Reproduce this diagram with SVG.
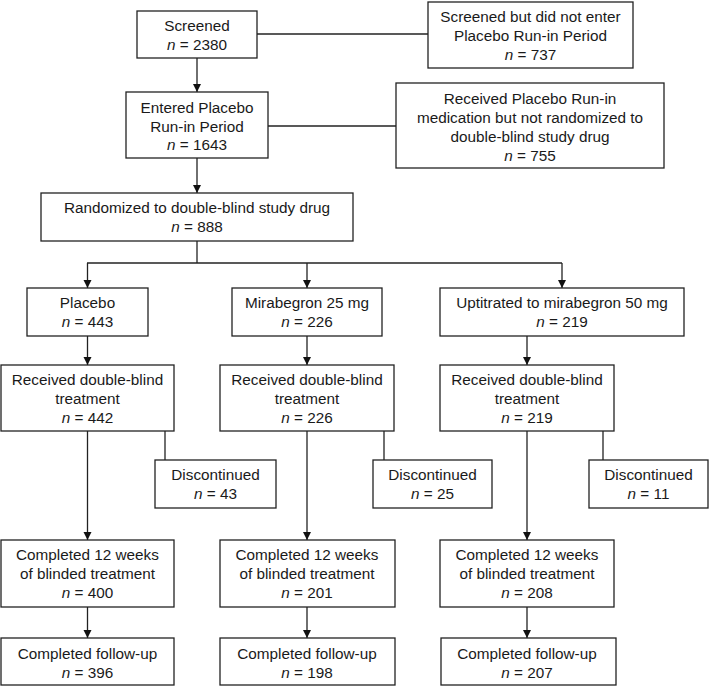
<svg xmlns="http://www.w3.org/2000/svg" width="709" height="686" viewBox="0 0 709 686">
<defs>
<style>
.box{fill:#fff;stroke:#222;stroke-width:1.3}
.t{font-family:"Liberation Sans",Arial,sans-serif;font-size:15.3px;fill:#1a1a1a;text-anchor:middle}
.i{font-style:italic}
.c{fill:none;stroke:#222;stroke-width:1.3}
</style>
<marker id="ah" viewBox="0 0 10 10" refX="10" refY="5" markerWidth="8" markerHeight="9" markerUnits="userSpaceOnUse" orient="auto">
<path d="M0,0 L10,5 L0,10 z" fill="#111"/>
</marker>
</defs>
<rect width="709" height="686" fill="#fff"/>
<g id="connectors">
<line class="c" x1="257" y1="34" x2="428" y2="34"/>
<line class="c" x1="197" y1="58" x2="197" y2="92" marker-end="url(#ah)"/>
<line class="c" x1="268" y1="126" x2="396" y2="126"/>
<line class="c" x1="197" y1="158" x2="197" y2="193" marker-end="url(#ah)"/>
<polyline class="c" points="197,241 197,263"/>
<line class="c" x1="87" y1="263" x2="562" y2="263"/>
<line class="c" x1="87.5" y1="263" x2="87.5" y2="288" marker-end="url(#ah)"/>
<line class="c" x1="307" y1="263" x2="307" y2="288" marker-end="url(#ah)"/>
<line class="c" x1="562" y1="263" x2="562" y2="288" marker-end="url(#ah)"/>
<line class="c" x1="87.5" y1="336" x2="87.5" y2="365" marker-end="url(#ah)"/>
<line class="c" x1="307" y1="336" x2="307" y2="365" marker-end="url(#ah)"/>
<line class="c" x1="527" y1="336" x2="527" y2="365" marker-end="url(#ah)"/>
<line class="c" x1="87.5" y1="431" x2="87.5" y2="540" marker-end="url(#ah)"/>
<line class="c" x1="307" y1="431" x2="307" y2="540" marker-end="url(#ah)"/>
<line class="c" x1="527" y1="431" x2="527" y2="540" marker-end="url(#ah)"/>
<line class="c" x1="165" y1="431" x2="165" y2="460"/>
<line class="c" x1="384" y1="431" x2="384" y2="460"/>
<line class="c" x1="603" y1="431" x2="603" y2="460"/>
<line class="c" x1="87.5" y1="607" x2="87.5" y2="638" marker-end="url(#ah)"/>
<line class="c" x1="307" y1="607" x2="307" y2="638" marker-end="url(#ah)"/>
<line class="c" x1="527" y1="607" x2="527" y2="638" marker-end="url(#ah)"/>
</g>
<g id="screened">
<rect class="box" x="137" y="11" width="120" height="47"/>
<text class="t" x="197" y="31">Screened</text>
<text class="t" x="197" y="50"><tspan class="i">n</tspan> = 2380</text>
</g>
<g id="not-entered">
<rect class="box" x="428" y="2" width="205" height="66"/>
<text class="t" x="530.5" y="21.5">Screened but did not enter</text>
<text class="t" x="530.5" y="40.5">Placebo Run-in Period</text>
<text class="t" x="530.5" y="59.5"><tspan class="i">n</tspan> = 737</text>
</g>
<g id="entered">
<rect class="box" x="126" y="92" width="142" height="66"/>
<text class="t" x="197" y="113">Entered Placebo</text>
<text class="t" x="197" y="131.5">Run-in Period</text>
<text class="t" x="197" y="150"><tspan class="i">n</tspan> = 1643</text>
</g>
<g id="not-randomized">
<rect class="box" x="396" y="83" width="268" height="85"/>
<text class="t" x="530" y="103.5">Received Placebo Run-in</text>
<text class="t" x="530" y="122.5">medication but not randomized to</text>
<text class="t" x="530" y="141.5">double-blind study drug</text>
<text class="t" x="530" y="160.5"><tspan class="i">n</tspan> = 755</text>
</g>
<g id="randomized">
<rect class="box" x="41" y="193" width="312" height="48"/>
<text class="t" x="197" y="213">Randomized to double-blind study drug</text>
<text class="t" x="197" y="232"><tspan class="i">n</tspan> = 888</text>
</g>
<g id="placebo">
<rect class="box" x="27" y="288" width="121" height="48"/>
<text class="t" x="87.5" y="308">Placebo</text>
<text class="t" x="87.5" y="326.5"><tspan class="i">n</tspan> = 443</text>
</g>
<g id="mira25">
<rect class="box" x="232" y="288" width="150" height="48"/>
<text class="t" x="307" y="308">Mirabegron 25 mg</text>
<text class="t" x="307" y="326.5"><tspan class="i">n</tspan> = 226</text>
</g>
<g id="mira50">
<rect class="box" x="440" y="288" width="244" height="48"/>
<text class="t" x="562" y="308">Uptitrated to mirabegron 50 mg</text>
<text class="t" x="562" y="326.5"><tspan class="i">n</tspan> = 219</text>
</g>
<g id="received1">
<rect class="box" x="1" y="365" width="173" height="66"/>
<text class="t" x="87.5" y="385">Received double-blind</text>
<text class="t" x="87.5" y="404">treatment</text>
<text class="t" x="87.5" y="422.5"><tspan class="i">n</tspan> = 442</text>
</g>
<g id="received2">
<rect class="box" x="220" y="365" width="174" height="66"/>
<text class="t" x="307" y="385">Received double-blind</text>
<text class="t" x="307" y="404">treatment</text>
<text class="t" x="307" y="422.5"><tspan class="i">n</tspan> = 226</text>
</g>
<g id="received3">
<rect class="box" x="440" y="365" width="174" height="66"/>
<text class="t" x="527" y="385">Received double-blind</text>
<text class="t" x="527" y="404">treatment</text>
<text class="t" x="527" y="422.5"><tspan class="i">n</tspan> = 219</text>
</g>
<g id="disc1">
<rect class="box" x="155" y="460" width="121" height="48"/>
<text class="t" x="215.5" y="480">Discontinued</text>
<text class="t" x="215.5" y="499"><tspan class="i">n</tspan> = 43</text>
</g>
<g id="disc2">
<rect class="box" x="373" y="460" width="119" height="48"/>
<text class="t" x="432.5" y="480">Discontinued</text>
<text class="t" x="432.5" y="499"><tspan class="i">n</tspan> = 25</text>
</g>
<g id="disc3">
<rect class="box" x="589" y="460" width="119" height="48"/>
<text class="t" x="648.5" y="480">Discontinued</text>
<text class="t" x="648.5" y="499"><tspan class="i">n</tspan> = 11</text>
</g>
<g id="completed1">
<rect class="box" x="1" y="540" width="173" height="67"/>
<text class="t" x="87.5" y="560">Completed 12 weeks</text>
<text class="t" x="87.5" y="579">of blinded treatment</text>
<text class="t" x="87.5" y="598"><tspan class="i">n</tspan> = 400</text>
</g>
<g id="completed2">
<rect class="box" x="220" y="540" width="175" height="67"/>
<text class="t" x="307" y="560">Completed 12 weeks</text>
<text class="t" x="307" y="579">of blinded treatment</text>
<text class="t" x="307" y="598"><tspan class="i">n</tspan> = 201</text>
</g>
<g id="completed3">
<rect class="box" x="440" y="540" width="174" height="67"/>
<text class="t" x="527" y="560">Completed 12 weeks</text>
<text class="t" x="527" y="579">of blinded treatment</text>
<text class="t" x="527" y="598"><tspan class="i">n</tspan> = 208</text>
</g>
<g id="followup1">
<rect class="box" x="1" y="638" width="173" height="47"/>
<text class="t" x="87.5" y="659">Completed follow-up</text>
<text class="t" x="87.5" y="678"><tspan class="i">n</tspan> = 396</text>
</g>
<g id="followup2">
<rect class="box" x="220" y="638" width="175" height="47"/>
<text class="t" x="307" y="659">Completed follow-up</text>
<text class="t" x="307" y="678"><tspan class="i">n</tspan> = 198</text>
</g>
<g id="followup3">
<rect class="box" x="441" y="638" width="175" height="47"/>
<text class="t" x="527" y="659">Completed follow-up</text>
<text class="t" x="527" y="678"><tspan class="i">n</tspan> = 207</text>
</g>
</svg>
